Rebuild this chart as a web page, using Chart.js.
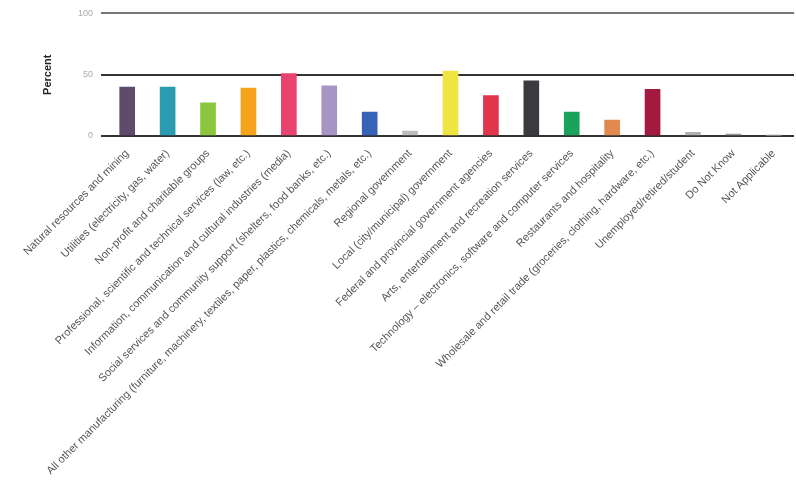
<!DOCTYPE html>
<html>
<head>
<meta charset="utf-8">
<script src="https://cdn.jsdelivr.net/npm/chart.js@4/dist/chart.umd.min.js"></script>
<style>
  html, body { margin: 0; padding: 0; background: #fff; }
  #wrap { width: 796px; height: 499px; }
</style>
</head>
<body>
<div id="wrap"><canvas id="chart" width="796" height="499"></canvas></div>
<script>
const sectors = [
  "Natural resources and mining",
  "Utilities (electricity, gas, water)",
  "Non-profit and charitable groups",
  "Professional, scientific and technical services (law, etc.)",
  "Information, communication and cultural industries (media)",
  "Social services and community support (shelters, food banks, etc.)",
  "All other manufacturing (furniture, machinery, textiles, paper, plastics, chemicals, metals, etc.)",
  "Regional government",
  "Local (city/municipal) government",
  "Federal and provincial government agencies",
  "Arts, entertainment and recreation services",
  "Technology – electronics, software and computer services",
  "Restaurants and hospitality",
  "Wholesale and retail trade (groceries, clothing, hardware, etc.)",
  "Unemployed/retired/student",
  "Do Not Know",
  "Not Applicable",
];

const percents = [40, 40, 27, 39, 51, 41, 19.5, 4, 53, 33, 45, 19.5, 13, 38, 3, 1.5, 0.5];

const barColors = [
  "#5e4a6a", "#2b9bb0", "#8cc63f", "#f7a21b", "#e8426e", "#a893c7",
  "#3762b8", "#bdbdbd", "#f0e442", "#e0354a", "#3a3a3f", "#1aa35a",
  "#e08a4f", "#a3193f", "#b0b0b0", "#999999", "#999999",
];

const yTicks = [0, 50, 100];

const ctx = document.getElementById("chart").getContext("2d");

new Chart(ctx, {
  type: "bar",
  data: {
    labels: sectors,
    datasets: [
      {
        label: "Percent",
        data: percents,
        backgroundColor: barColors,
        barThickness: 15,
      },
    ],
  },
  options: {
    responsive: false,
    animation: false,
    layout: { padding: { left: 37, top: 10, right: 2, bottom: 0 } },
    plugins: {
      legend: { display: false },
      tooltip: { enabled: false },
    },
    scales: {
      x: {
        grid: { display: false },
        border: { display: false },
        ticks: {
          autoSkip: false,
          minRotation: 45,
          maxRotation: 45,
          color: "#555",
          font: { family: "Liberation Sans, Arial", size: 11 },
        },
        afterFit: (scale) => {
          scale.height = 363;
        },
      },
      y: {
        min: 0,
        max: 100,
        afterBuildTicks: (scale) => {
          scale.ticks = yTicks.map((v) => ({ value: v }));
        },
        border: { display: false },
        grid: {
          color: (c) => (c.tick && c.tick.value === 100 ? "#777" : "#333"),
          lineWidth: 2,
          tickLength: 6,
        },
        ticks: {
          padding: 8,
          color: "#aaa",
          font: { family: "Liberation Sans, Arial", size: 9 },
        },
        title: {
          display: true,
          text: "Percent",
          color: "#222",
          font: { family: "Liberation Sans, Arial", size: 11, weight: "bold" },
        },
        afterFit: (scale) => {
          scale.width = 70;
        },
      },
    },
  },
});
</script>
</body>
</html>
